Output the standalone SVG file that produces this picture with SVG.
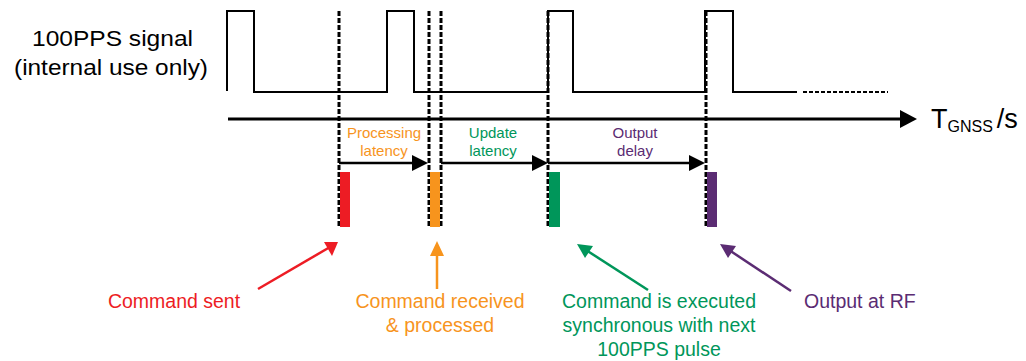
<svg xmlns="http://www.w3.org/2000/svg" width="1026" height="361" viewBox="0 0 1026 361">
<style>
text{font-family:"Liberation Sans",Arial,sans-serif}
.sig{fill:none;stroke:#000;stroke-width:2}
.vd{stroke:#000;stroke-width:3;stroke-dasharray:5 2;fill:none}
.ax{stroke:#000;stroke-width:3}
.ha{stroke:#000;stroke-width:2.5}
.lab{font-size:15px;text-anchor:middle}
.big{font-size:19.5px}
</style>
<rect width="1026" height="361" fill="#fff"/>
<g id="signal-label">
<text x="32" y="46" font-size="21.5" textLength="161" lengthAdjust="spacingAndGlyphs">100PPS signal</text>
<text x="14" y="75" font-size="21.5" textLength="194" lengthAdjust="spacingAndGlyphs">(internal use only)</text>
</g>
<g id="signal">
<path class="sig" d="M227,91 V11 H254 V92 H387 V11 H414 V92 H548 V11 H573 V92 H705 V11 H733 V92 H797"/>
<path class="sig" d="M803,92 H888" stroke-dasharray="4 2"/>
</g>
<g id="axis">
<line class="ax" x1="228" y1="119" x2="902" y2="119"/>
<path d="M900,110 L917,119 L900,128 z" fill="#000"/>
<text x="931" y="128" font-size="27">T<tspan font-size="16" dy="4">GNSS</tspan><tspan dy="-4" dx="4">/s</tspan></text>
</g>
<g id="markers">
<line class="vd" x1="339" y1="11" x2="339" y2="228"/>
<line class="vd" x1="429" y1="11" x2="429" y2="228"/>
<line class="vd" x1="441" y1="11" x2="441" y2="228"/>
<line class="vd" x1="548" y1="11" x2="548" y2="228"/>
<line class="vd" x1="706" y1="11" x2="706" y2="228"/>
</g>
<g id="bars">
<rect x="340" y="172" width="10" height="55" fill="#ED1C24"/>
<rect x="430" y="172" width="10" height="55" fill="#F7941D"/>
<rect x="549" y="172" width="11" height="55" fill="#00965A"/>
<rect x="707" y="172" width="10" height="55" fill="#5B2C73"/>
</g>
<g id="connectors">
<line x1="339" y1="163" x2="414" y2="163" class="ha"/>
<path d="M412,155 L428,163 L412,171 z"/>
<line x1="441" y1="163" x2="534" y2="163" class="ha"/>
<path d="M532,155 L548,163 L532,171 z"/>
<line x1="548" y1="163" x2="691" y2="163" class="ha"/>
<path d="M689,155 L705,163 L689,171 z"/>
<line x1="258" y1="289" x2="330" y2="247" stroke="#ED1C24" stroke-width="2.5"/>
<path d="M338,242 L332,256 L324,242 z" fill="#ED1C24"/>
<line x1="437" y1="289" x2="437" y2="252" stroke="#F7941D" stroke-width="2.5"/>
<path d="M437,241 L444,256 L430,256 z" fill="#F7941D"/>
<line x1="648" y1="290" x2="586" y2="250" stroke="#00965A" stroke-width="2.5"/>
<path d="M577,244 L593,246 L585,258 z" fill="#00965A"/>
<line x1="791" y1="291" x2="729" y2="250" stroke="#5B2C73" stroke-width="2.5"/>
<path d="M720,244 L736,246 L728,258 z" fill="#5B2C73"/>
</g>
<g id="interval-labels">
<text class="lab" x="384" y="138" fill="#F7941D">Processing</text>
<text class="lab" x="384" y="156" fill="#F7941D">latency</text>
<text class="lab" x="493" y="138" fill="#00965A">Update</text>
<text class="lab" x="493" y="156" fill="#00965A">latency</text>
<text class="lab" x="635" y="138" fill="#5B2C73">Output</text>
<text class="lab" x="635" y="156" fill="#5B2C73">delay</text>
</g>
<g id="command-sent"><text class="big" x="174" y="308" text-anchor="middle" fill="#ED1C24">Command sent</text></g>
<g id="command-received">
<text class="big" x="440" y="308" text-anchor="middle" fill="#F7941D">Command received</text>
<text class="big" x="440" y="332" text-anchor="middle" fill="#F7941D">&amp; processed</text>
</g>
<g id="command-executed">
<text class="big" x="659" y="308" text-anchor="middle" fill="#00965A">Command is executed</text>
<text class="big" x="659" y="332" text-anchor="middle" fill="#00965A">synchronous with next</text>
<text class="big" x="659" y="356" text-anchor="middle" fill="#00965A">100PPS pulse</text>
</g>
<g id="output-rf"><text class="big" x="804" y="308" fill="#5B2C73">Output at RF</text></g>
</svg>
